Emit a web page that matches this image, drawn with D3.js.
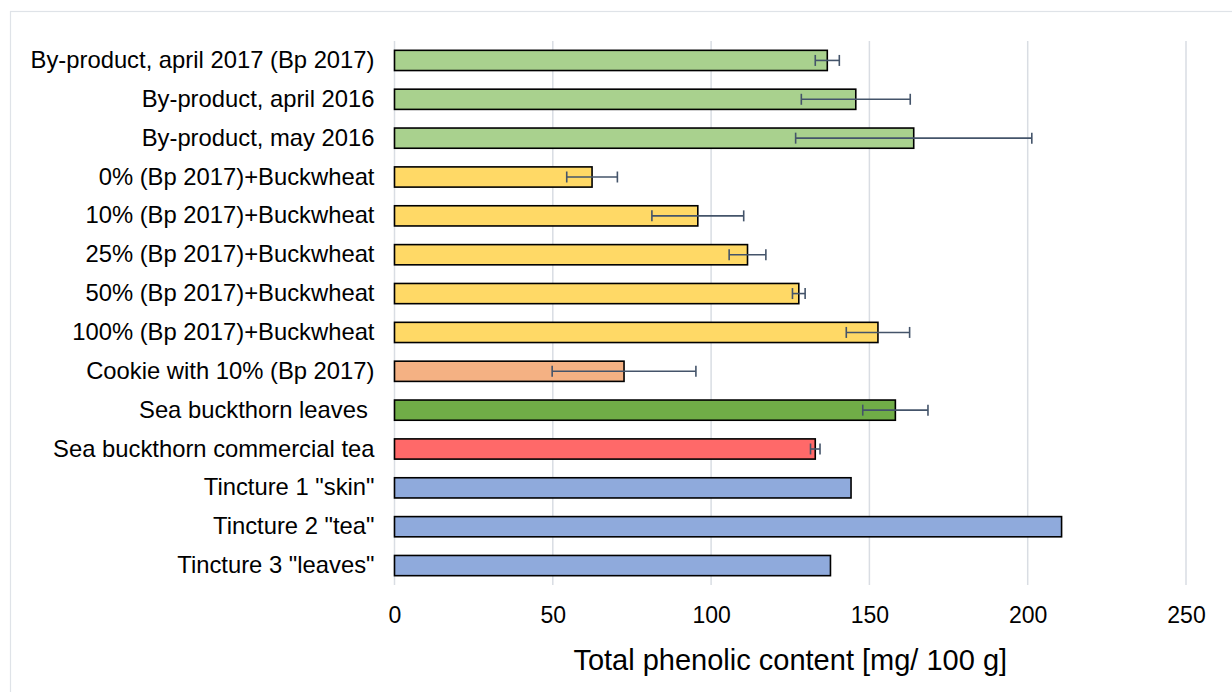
<!DOCTYPE html>
<html>
<head>
<meta charset="utf-8">
<script src="https://cdn.jsdelivr.net/npm/d3@7"></script>
<style>
  body { margin: 0; background: #fff; }
  text { font-family: "Liberation Sans", Arial, sans-serif; fill: #000; }
</style>
</head>
<body>
<div id="chart"></div>
<script>
// categories, top to bottom
const samples = [
    'By-product, april 2017 (Bp 2017)',
    'By-product, april 2016',
    'By-product, may 2016',
    '0% (Bp 2017)+Buckwheat',
    '10% (Bp 2017)+Buckwheat',
    '25% (Bp 2017)+Buckwheat',
    '50% (Bp 2017)+Buckwheat',
    '100% (Bp 2017)+Buckwheat',
    'Cookie with 10% (Bp 2017)',
    'Sea buckthorn leaves ',
    'Sea buckthorn commercial tea',
    'Tincture 1 "skin"',
    'Tincture 2 "tea"',
    'Tincture 3 "leaves"'
];
// mean values [mg/100 g]
const phenolic = [136.7, 145.7, 164.0, 62.4, 95.8, 111.5, 127.7, 152.7, 72.5, 158.2, 132.9, 144.2, 210.7, 137.7];
// standard deviations (null = no error bar)
const sd = [3.8, 17.2, 37.3, 8.0, 14.5, 5.8, 2.0, 10.0, 22.7, 10.3, 1.5, null, null, null];
// group of each sample -> colour
const group = ['bp', 'bp', 'bp', 'mix', 'mix', 'mix', 'mix', 'mix', 'cookie', 'leaves', 'tea', 'tinc', 'tinc', 'tinc'];
const xTicks = [0, 50, 100, 150, 200, 250];

const colors = {
    bp: '#a9d18e', mix: '#ffd966', cookie: '#f4b183',
    leaves: '#70ad47', tea: '#ff6969', tinc: '#8faadc'
};

const W = 1232, H = 692;
const margin = { top: 41, right: 46, bottom: 107, left: 394.5 };

const svg = d3.select('#chart').append('svg')
    .attr('width', W)
    .attr('height', H);

// light frame round the chart
svg.append('rect')
    .attr('x', 10.5).attr('y', 11.5)
    .attr('width', W).attr('height', H)
    .attr('fill', 'none')
    .attr('stroke', '#dfe3e8')
    .attr('stroke-width', 1.2);

const x = d3.scaleLinear()
    .domain([0, 250])
    .range([margin.left, W - margin.right]);

const y = d3.scaleBand()
    .domain(samples)
    .range([margin.top, H - margin.bottom])
    .paddingInner(0.48)
    .paddingOuter(0.24);

// gridlines
svg.append('g')
    .selectAll('line')
    .data(xTicks)
    .join('line')
    .attr('x1', d => x(d)).attr('x2', d => x(d))
    .attr('y1', margin.top).attr('y2', H - margin.bottom)
    .attr('stroke', '#d9dde3')
    .attr('stroke-width', 1.5);

// x axis (labels only)
const xAxis = svg.append('g')
    .attr('transform', `translate(0,${H - margin.bottom})`)
    .call(d3.axisBottom(x).tickValues(xTicks).tickSize(0).tickPadding(22));
xAxis.select('.domain').remove();
xAxis.selectAll('text')
    .style('font-size', '23px')
    .attr('font-family', null);

// y axis (category labels), keep trailing spaces
const yAxis = svg.append('g')
    .attr('transform', `translate(${margin.left},0)`)
    .call(d3.axisLeft(y).tickSize(0).tickPadding(20));
yAxis.select('.domain').remove();
yAxis.selectAll('text')
    .style('font-size', '23.8px')
    .style('white-space', 'pre')
    .attr('font-family', null);

// bars
const rows = samples.map((s, i) => ({ name: s, value: phenolic[i], sd: sd[i], group: group[i] }));

svg.append('g')
    .selectAll('rect')
    .data(rows)
    .join('rect')
    .attr('x', x(0))
    .attr('y', d => y(d.name))
    .attr('width', d => x(d.value) - x(0))
    .attr('height', y.bandwidth())
    .attr('fill', d => colors[d.group])
    .attr('stroke', '#000')
    .attr('stroke-width', 1.6);

// error bars
const err = svg.append('g')
    .attr('stroke', '#44546a')
    .attr('stroke-width', 1.6)
    .selectAll('g')
    .data(rows.filter(d => d.sd != null))
    .join('g')
    .attr('transform', d => `translate(0,${y(d.name) + y.bandwidth() / 2})`);

err.append('line')
    .attr('x1', d => x(d.value - d.sd))
    .attr('x2', d => x(d.value + d.sd));
err.append('line')
    .attr('x1', d => x(d.value - d.sd)).attr('x2', d => x(d.value - d.sd))
    .attr('y1', -5.5).attr('y2', 5.5);
err.append('line')
    .attr('x1', d => x(d.value + d.sd)).attr('x2', d => x(d.value + d.sd))
    .attr('y1', -5.5).attr('y2', 5.5);

// axis title
svg.append('text')
    .attr('x', (x(0) + x(250)) / 2)
    .attr('y', 670)
    .attr('text-anchor', 'middle')
    .style('font-size', '29px')
    .text('Total phenolic content [mg/ 100 g]');
</script>
</body>
</html>
